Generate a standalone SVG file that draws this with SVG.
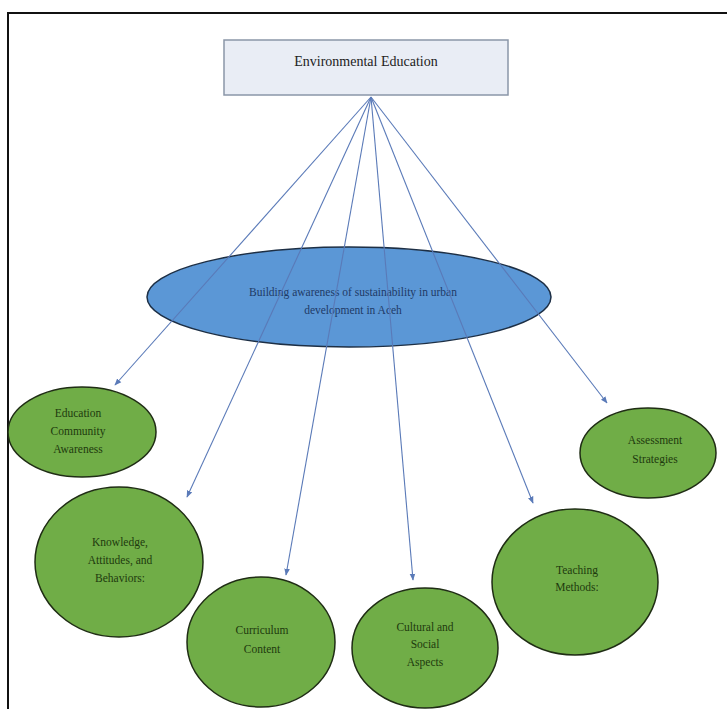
<svg xmlns="http://www.w3.org/2000/svg" width="727" height="709" viewBox="0 0 727 709">
<style>
  .frame { stroke: #111; stroke-width: 2; fill: none; }
  .box { fill: #e9edf5; stroke: #8a96a8; stroke-width: 1.5; }
  .hub { fill: #5b97d6; stroke: #1d2f45; stroke-width: 1.5; }
  .leaf { fill: #70ad47; stroke: #1f2d14; stroke-width: 1.5; }
  .conn { stroke: #5a7ab8; stroke-width: 1.1; fill: none; marker-end: url(#arr); }
  text { font-family: "Liberation Serif", "Times New Roman", serif; text-anchor: middle; }
  .t-box { font-size: 14px; fill: #222; }
  .t-hub { font-size: 11.5px; fill: #1f3a66; }
  .t-leaf { font-size: 11.5px; fill: #1e3a0e; }
</style>
<defs>
  <marker id="arr" viewBox="0 0 10 10" refX="9" refY="5" markerWidth="7" markerHeight="7" orient="auto" markerUnits="userSpaceOnUse">
    <path d="M0,1 L10,5 L0,9 z" fill="#5a7ab8"/>
  </marker>
</defs>
<rect width="727" height="709" fill="#ffffff"/>
<path class="frame" d="M8,709 L8,13 L727,13"/>

<g id="hub">
  <ellipse class="hub" cx="349" cy="297" rx="202" ry="50"/>
  <text class="t-hub" x="353" y="296">Building awareness of sustainability in urban</text>
  <text class="t-hub" x="353" y="314">development in Aceh</text>
</g>

<g id="connectors">
  <line class="conn" x1="371" y1="97" x2="115" y2="385"/>
  <line class="conn" x1="371" y1="97" x2="187" y2="497"/>
  <line class="conn" x1="371" y1="97" x2="286" y2="575"/>
  <line class="conn" x1="371" y1="97" x2="413" y2="580"/>
  <line class="conn" x1="371" y1="97" x2="533" y2="503"/>
  <line class="conn" x1="371" y1="97" x2="607" y2="403"/>
</g>

<g id="top">
  <rect class="box" x="224" y="40" width="284" height="55"/>
  <text class="t-box" x="366" y="66">Environmental Education</text>
</g>

<g id="education">
  <ellipse class="leaf" cx="82" cy="432" rx="74" ry="45"/>
  <text class="t-leaf" x="78" y="417">Education</text>
  <text class="t-leaf" x="78" y="435">Community</text>
  <text class="t-leaf" x="78" y="453">Awareness</text>
</g>
<g id="knowledge">
  <ellipse class="leaf" cx="119" cy="562" rx="84" ry="75"/>
  <text class="t-leaf" x="120" y="546">Knowledge,</text>
  <text class="t-leaf" x="120" y="564">Attitudes, and</text>
  <text class="t-leaf" x="120" y="582">Behaviors:</text>
</g>
<g id="curriculum">
  <ellipse class="leaf" cx="261" cy="642" rx="74" ry="65"/>
  <text class="t-leaf" x="262" y="634">Curriculum</text>
  <text class="t-leaf" x="262" y="653">Content</text>
</g>
<g id="cultural">
  <ellipse class="leaf" cx="425" cy="648" rx="73" ry="60"/>
  <text class="t-leaf" x="425" y="631">Cultural and</text>
  <text class="t-leaf" x="425" y="648">Social</text>
  <text class="t-leaf" x="425" y="666">Aspects</text>
</g>
<g id="teaching">
  <ellipse class="leaf" cx="575" cy="582" rx="83" ry="73"/>
  <text class="t-leaf" x="577" y="574">Teaching</text>
  <text class="t-leaf" x="577" y="591">Methods:</text>
</g>
<g id="assessment">
  <ellipse class="leaf" cx="648" cy="453" rx="68" ry="45"/>
  <text class="t-leaf" x="655" y="444">Assessment</text>
  <text class="t-leaf" x="655" y="463">Strategies</text>
</g>
</svg>
